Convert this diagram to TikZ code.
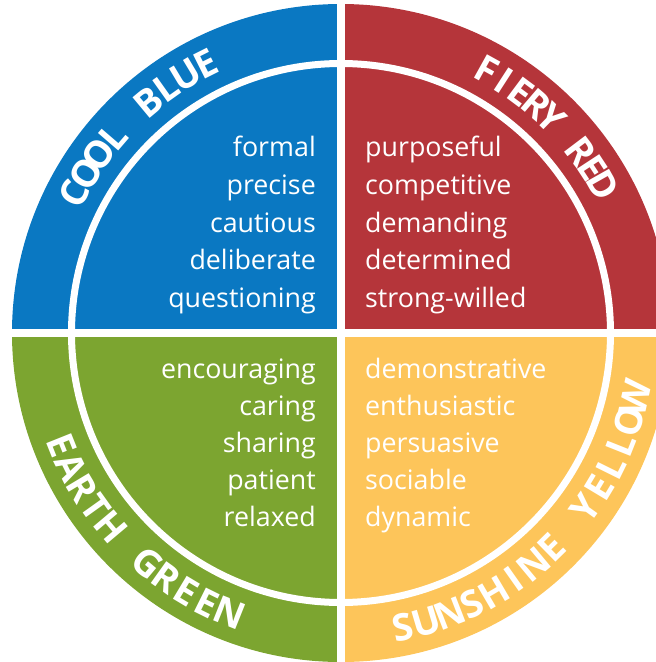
\documentclass[tikz,border=0pt]{standalone}
\usepackage{fontspec}
\setmainfont{Open Sans}
\definecolor{cblue}{HTML}{0A78C2}
\definecolor{cred}{HTML}{B5353A}
\definecolor{cgreen}{HTML}{7CA530}
\definecolor{cyellow}{HTML}{FDC55A}
\newlength\lw
\newcommand\labfont{\bfseries\fontsize{37.5}{42}\selectfont}
\newcommand\bodyfont{\fontsize{26.8}{30}\selectfont}
\def\spacemark{*}
% #1 name prefix, #2 letters (* = word gap), #3 first centre angle, #4 last centre angle, #5 baseline radius, #6 rotation offset
\newcommand\arctext[6]{%
  \xdef\acum{0}\xdef\acount{0}%
  \foreach \ch in {#2}{%
    \edef\tmpch{\ch}%
    \ifx\tmpch\spacemark \lw=3.5pt \else \settowidth{\lw}{\labfont\ch}\fi
    \pgfmathsetmacro\cc{\acum+0.5*\lw}%
    \expandafter\xdef\csname acpos\acount\endcsname{\cc}%
    \pgfmathsetmacro\nc{\acum+\lw}\xdef\acum{\nc}%
    \pgfmathtruncatemacro\na{\acount+1}\xdef\acount{\na}%
  }%
  \pgfmathsetmacro\arcL{abs(#4-#3)*pi/180*#5}%
  \pgfmathtruncatemacro\lastk{\acount-1}%
  \expandafter\let\expandafter\cfirst\csname acpos0\endcsname
  \expandafter\let\expandafter\clast\csname acpos\lastk\endcsname
  \pgfmathsetmacro\trk{(\arcL-(\clast-\cfirst))/\lastk}%
  \foreach \ch [count=\k from 0] in {#2}{%
    \edef\tmpch{\ch}%
    \ifx\tmpch\spacemark\else
      \expandafter\let\expandafter\thispos\csname acpos\k\endcsname
      \pgfmathsetmacro\pp{\thispos-\cfirst+\k*\trk}%
      \pgfmathsetmacro\frac{\pp/\arcL}%
      \pgfmathsetmacro\ang{#3+(#4-#3)*\frac}%
      \node[labelletter, rotate=\ang+#6] (#1-\k) at (\ang:#5pt) {\ch};%
    \fi
  }%
}
\tikzset{
  labelletter/.style={anchor=base, inner sep=0pt, text=white, font=\labfont},
  bodytext/.style={inner sep=0pt, text=white, font=\bodyfont},
  ring/.style={draw=white, line width=7pt},
  gapline/.style={draw=white, line width=8pt}
}
\begin{document}
\begin{tikzpicture}[x=1pt,y=1pt]
\useasboundingbox (-341,-329) rectangle (315,333);
\clip (-341,-329) rectangle (315,333);
% quadrants
\fill[cblue] (0,0) -- (90:329pt) arc[start angle=90,end angle=180,radius=329pt] -- cycle;
\fill[cred] (0,0) -- (0:329pt) arc[start angle=0,end angle=90,radius=329pt] -- cycle;
\fill[cgreen] (0,0) -- (180:329pt) arc[start angle=180,end angle=270,radius=329pt] -- cycle;
\fill[cyellow] (0,0) -- (270:329pt) arc[start angle=270,end angle=360,radius=329pt] -- cycle;
% white separators
\path[gapline] (0,-340) -- (0,340);
\path[gapline] (-340,0) -- (340,0);
\path[ring] (0,0) circle[radius=269.5pt];
% curved labels
\arctext{cb}{C,O,O,L,*,B,L,U,E}{152.5}{116.6}{287.5}{-90}
\arctext{fr}{F,I,E,R,Y,*,R,E,D}{61}{29.4}{287.5}{-90}
\arctext{eg}{E,A,R,T,H,*,G,R,E,E,N}{201.8}{248.2}{314.5}{90}
\arctext{sy}{S,U,N,S,H,I,N,E,*,Y,E,L,L,O,W}{281.9}{347.6}{314.5}{90}
% body texts
\foreach \t [count=\i] in {formal,precise,cautious,deliberate,questioning}
  \node[bodytext, anchor=base east] (bl\i) at (-25,{176-(\i-1)*37.5}) {\t};
\foreach \t [count=\i] in {purposeful,competitive,demanding,determined,strong-willed}
  \node[bodytext, anchor=base west] (rd\i) at (24,{176-(\i-1)*37.5}) {\t};
\foreach \t [count=\i] in {encouraging,caring,sharing,patient,relaxed}
  \node[bodytext, anchor=base east] (gr\i) at (-25,{-45-(\i-1)*37}) {\t};
\foreach \t [count=\i] in {demonstrative,enthusiastic,persuasive,sociable,dynamic}
  \node[bodytext, anchor=base west] (ye\i) at (24,{-45-(\i-1)*37}) {\t};
\end{tikzpicture}
\end{document}
